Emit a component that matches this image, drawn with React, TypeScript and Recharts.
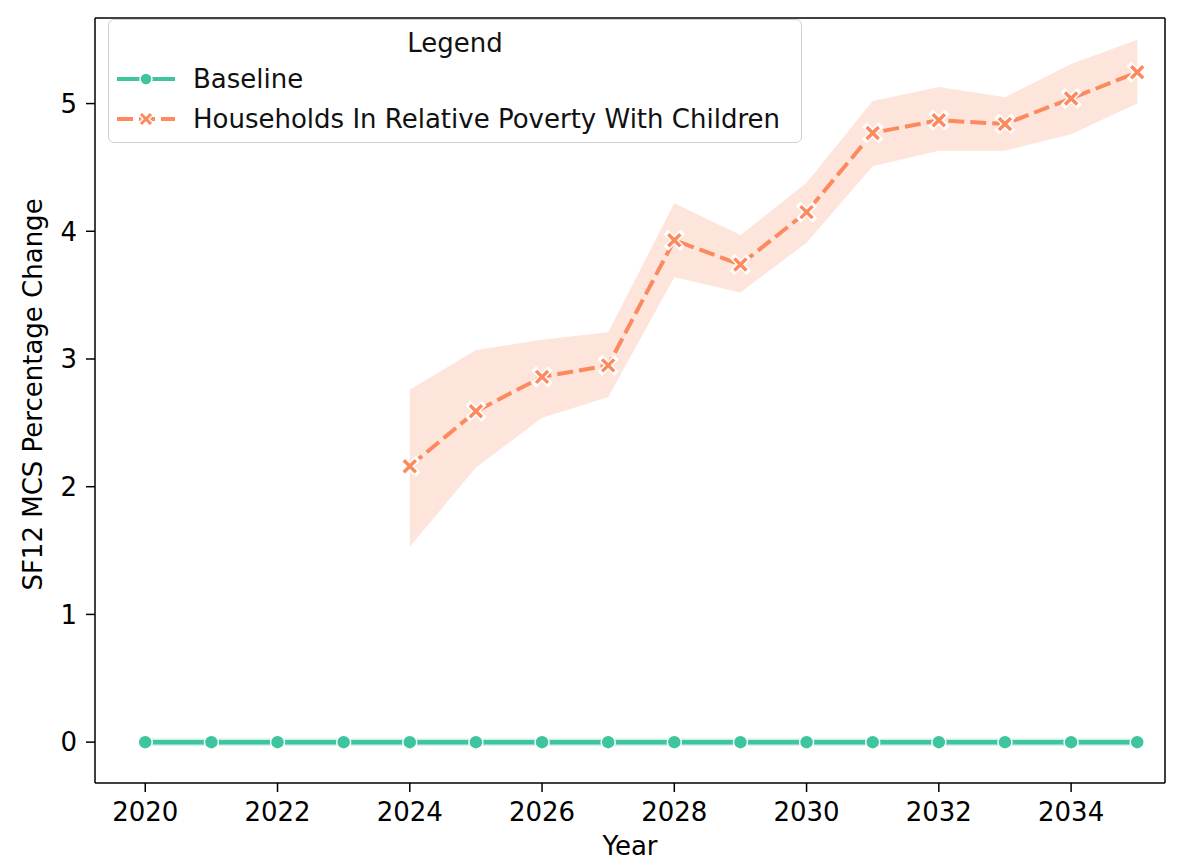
import React from 'react';
import {
  ComposedChart,
  Line,
  Area,
  XAxis,
  YAxis,
  ReferenceLine,
} from 'recharts';

const years = [2020, 2021, 2022, 2023, 2024, 2025, 2026, 2027, 2028, 2029, 2030, 2031, 2032, 2033, 2034, 2035];
const baseline = [0, 0, 0, 0, 0, 0, 0, 0, 0, 0, 0, 0, 0, 0, 0, 0];
const baselineLow = [-0.03, -0.03, -0.03, -0.03, -0.03, -0.03, -0.03, -0.03, -0.03, -0.03, -0.03, -0.03, -0.03, -0.03, -0.03, -0.03];
const baselineHigh = [0.03, 0.03, 0.03, 0.03, 0.03, 0.03, 0.03, 0.03, 0.03, 0.03, 0.03, 0.03, 0.03, 0.03, 0.03, 0.03];

const povertyYears = [2024, 2025, 2026, 2027, 2028, 2029, 2030, 2031, 2032, 2033, 2034, 2035];
const poverty = [2.16, 2.59, 2.86, 2.95, 3.93, 3.74, 4.15, 4.77, 4.87, 4.84, 5.04, 5.245];
const povertyLow = [1.53, 2.15, 2.54, 2.7, 3.64, 3.52, 3.91, 4.51, 4.63, 4.63, 4.76, 5.0];
const povertyHigh = [2.76, 3.07, 3.15, 3.21, 4.22, 3.97, 4.38, 5.02, 5.13, 5.05, 5.31, 5.5];

const xTicks = [2020, 2022, 2024, 2026, 2028, 2030, 2032, 2034];
const yTicks = [0, 1, 2, 3, 4, 5];

const X_DOMAIN: [number, number] = [2019.24, 2035.42];
const Y_DOMAIN: [number, number] = [-0.32, 5.67];

const TEAL = '#3ec49e';
const ORANGE = '#fc8a5e';
const FONT = 'DejaVu Sans, sans-serif';
const FS = 26;

const data = years.map((year, i) => {
  const j = povertyYears.indexOf(year);
  return {
    year,
    baseline: baseline[i],
    baselineBand: [baselineLow[i], baselineHigh[i]],
    poverty: j >= 0 ? poverty[j] : undefined,
    povertyBand: j >= 0 ? [povertyLow[j], povertyHigh[j]] : undefined,
  };
});

function CircleDot(props: { cx?: number; cy?: number }) {
  const { cx, cy } = props;
  if (cx == null || cy == null) return null;
  return <circle cx={cx} cy={cy} r={7} fill={TEAL} stroke="#fff" strokeWidth={1.5} />;
}

function CrossDot(props: { cx?: number; cy?: number; value?: unknown }) {
  const { cx, cy, value } = props;
  if (cx == null || cy == null || value == null) return null;
  const s = 6;
  const d = `M${cx - s},${cy - s}L${cx + s},${cy + s}M${cx - s},${cy + s}L${cx + s},${cy - s}`;
  return (
    <g>
      <path d={d} stroke="#fff" strokeWidth={6.5} strokeLinecap="square" />
      <path d={d} stroke={ORANGE} strokeWidth={3.5} strokeLinecap="butt" />
    </g>
  );
}

function LegendBox() {
  return (
    <div
      style={{
        position: 'absolute',
        left: 100,
        top: 11,
        width: 694,
        height: 124,
        border: '1.5px solid #d0d0d0',
        borderRadius: 6,
        background: 'rgba(255,255,255,0.85)',
        fontFamily: FONT,
        fontSize: FS,
        lineHeight: '30px',
        color: '#111',
        boxSizing: 'border-box',
      }}
    >
      <div style={{ position: 'absolute', left: 0, width: '100%', top: 8, textAlign: 'center' }}>Legend</div>
      <svg style={{ position: 'absolute', left: 6, top: 47 }} width={62} height={24}>
        <line x1={2} y1={12} x2={60} y2={12} stroke={TEAL} strokeWidth={4} />
        <circle cx={31} cy={12} r={6} fill={TEAL} stroke="#fff" strokeWidth={1.5} />
      </svg>
      <div style={{ position: 'absolute', left: 84, top: 44 }}>Baseline</div>
      <svg style={{ position: 'absolute', left: 6, top: 87 }} width={62} height={24}>
        <line x1={2} y1={12} x2={60} y2={12} stroke={ORANGE} strokeWidth={4} strokeDasharray="16 6" />
        <path d="M25,6L37,18M25,18L37,6" stroke="#fff" strokeWidth={6} />
        <path d="M26,7L36,17M26,17L36,7" stroke={ORANGE} strokeWidth={3} />
      </svg>
      <div style={{ position: 'absolute', left: 84, top: 84 }}>Households In Relative Poverty With Children</div>
    </div>
  );
}

export default function App() {
  const tickStyle = { fontSize: FS, fill: '#000', fontFamily: FONT };
  return (
    <div style={{ position: 'relative', width: 1184, height: 853 }}>
      <ComposedChart
        width={1184}
        height={853}
        data={data}
        margin={{ top: 10, right: 27, left: 0, bottom: 0 }}
      >
        <XAxis
          dataKey="year"
          type="number"
          domain={X_DOMAIN}
          ticks={xTicks}
          allowDataOverflow
          height={78}
          stroke="#000"
          strokeWidth={1.5}
          tickSize={9}
          tickMargin={11}
          tick={tickStyle}
          label={{ value: 'Year', position: 'insideBottom', offset: 6, style: { fontSize: FS, fill: '#000', fontFamily: FONT } }}
        />
        <YAxis
          type="number"
          domain={Y_DOMAIN}
          ticks={yTicks}
          allowDataOverflow
          width={87}
          stroke="#000"
          strokeWidth={1.5}
          tickSize={9}
          tickMargin={9}
          tick={tickStyle}
          label={{
            value: 'SF12 MCS Percentage Change',
            angle: -90,
            position: 'insideLeft',
            offset: 25,
            dy: -6,
            style: { fontSize: FS, fill: '#000', fontFamily: FONT, textAnchor: 'middle' },
          }}
        />
        <ReferenceLine y={Y_DOMAIN[1]} stroke="#000" strokeWidth={1.5} />
        <ReferenceLine x={X_DOMAIN[1]} stroke="#000" strokeWidth={1.5} />
        <Area
          dataKey="povertyBand"
          type="linear"
          stroke="none"
          fill={ORANGE}
          fillOpacity={0.22}
          isAnimationActive={false}
          activeDot={false}
          connectNulls={false}
        />
        <Area
          dataKey="baselineBand"
          type="linear"
          stroke="none"
          fill={TEAL}
          fillOpacity={0.22}
          isAnimationActive={false}
          activeDot={false}
        />
        <Line
          dataKey="baseline"
          type="linear"
          stroke={TEAL}
          strokeWidth={4.5}
          dot={<CircleDot />}
          activeDot={false}
          isAnimationActive={false}
        />
        <Line
          dataKey="poverty"
          type="linear"
          stroke={ORANGE}
          strokeWidth={4}
          strokeDasharray="16 6"
          dot={<CrossDot />}
          activeDot={false}
          connectNulls={false}
          isAnimationActive={false}
        />
      </ComposedChart>
      <LegendBox />
    </div>
  );
}
